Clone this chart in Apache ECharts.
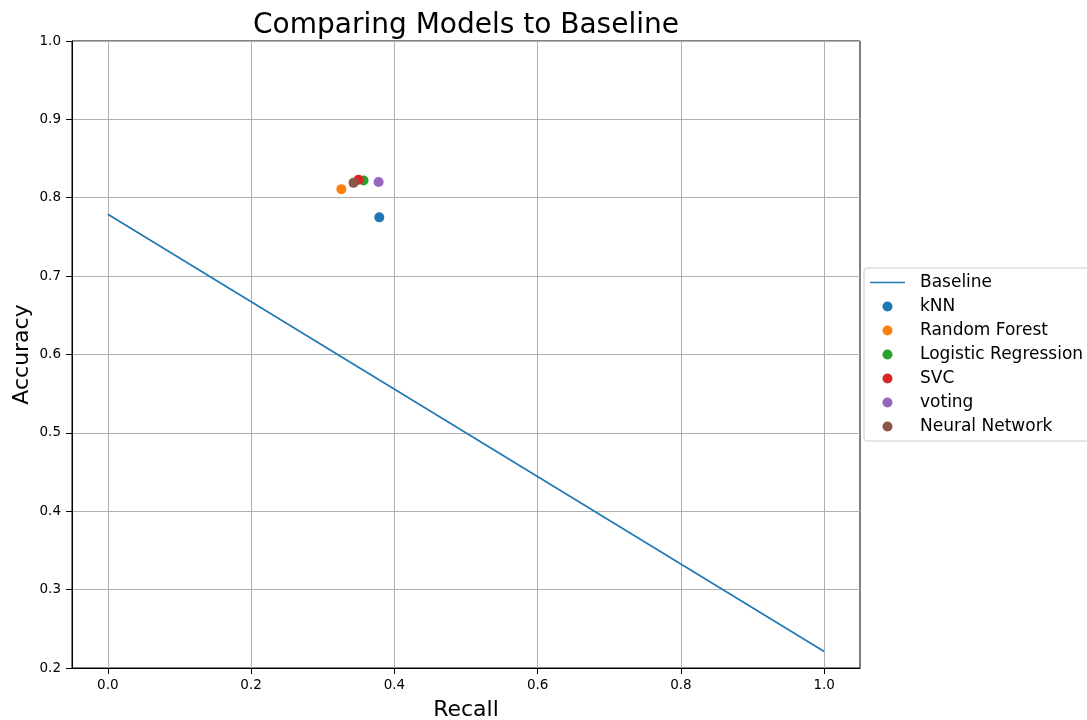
<!DOCTYPE html>
<html><head><meta charset="utf-8">
<script src="https://cdn.jsdelivr.net/npm/echarts@6/dist/echarts.min.js"></script>
<style>html,body{margin:0;padding:0;background:#fff}#c{width:1087px;height:720px}</style>
</head><body><div id="c"></div>
<script>
const baselineX = [0.0, 1.0];
const baselineY = [0.779, 0.221];
const modelNames = ['kNN', 'Random Forest', 'Logistic Regression', 'SVC', 'voting', 'Neural Network'];
const modelRecall = [0.379, 0.326, 0.357, 0.350, 0.378, 0.343];
const modelAccuracy = [0.775, 0.811, 0.822, 0.823, 0.820, 0.819];
const colors = ['#1f77b4', '#ff7f0e', '#2ca02c', '#d62728', '#9467bd', '#8c564b'];
const xTicks = [0.0, 0.2, 0.4, 0.6, 0.8, 1.0];

const font = 'DejaVu Sans';
const chart = echarts.init(document.getElementById('c'), null, {renderer: 'canvas'});
const series = [{
  name: 'Baseline', type: 'line', symbol: 'none',
  data: baselineX.map((x, i) => [x, baselineY[i]]),
  lineStyle: {color: '#1f77b4', width: 1.6}, itemStyle: {color: '#1f77b4'}, z: 2
}];
modelNames.forEach((n, i) => {
  series.push({
    name: n, type: 'scatter', symbol: 'circle', symbolSize: 10,
    data: [[modelRecall[i], modelAccuracy[i]]],
    itemStyle: {color: colors[i], opacity: 1}, z: 3 + i
  });
});
chart.setOption({
  animation: false,
  title: {text: 'Comparing Models to Baseline', left: 461, textAlign: 'center', top: 7,
    textStyle: {fontFamily: font, fontSize: 28, fontWeight: 'normal', color: '#000'}},
  grid: {left: 72, right: 227, top: 41, bottom: 52, show: true, borderColor: '#000', borderWidth: 1,
    containLabel: false, outerBoundsMode: 'none'},
  legend: {
    orient: 'vertical', left: 864, top: 268, padding: [6, 12, 6, 6],
    borderColor: '#cccccc', borderWidth: 1, borderRadius: 3, backgroundColor: '#fff',
    itemWidth: 35, itemHeight: 10, itemGap: 7, symbolKeepAspect: true,
    textStyle: {fontFamily: font, fontSize: 17, color: '#000', padding: [0, 0, 0, 10]},
    data: [{name: 'Baseline', icon: 'path://M0,0H35V1.6H0Z', itemStyle: {color: '#1f77b4'}}].concat(modelNames.map(n => ({name: n, icon: 'circle'})))
  },
  xAxis: {
    type: 'value', min: -0.05, max: 1.05,
    name: 'Recall', nameLocation: 'middle', nameGap: 31, nameMoveOverlap: false,
    nameTextStyle: {fontFamily: font, fontSize: 22, color: '#000'},
    axisLine: {show: true, onZero: false, lineStyle: {color: '#000'}},
    axisTick: {show: true, length: 6, lineStyle: {color: '#000'}, customValues: xTicks},
    axisLabel: {fontFamily: font, fontSize: 13.5, color: '#000', margin: 10, customValues: xTicks,
      formatter: v => v.toFixed(1)},
    splitLine: {show: true, lineStyle: {color: '#b0b0b0', width: 1}}
  },
  yAxis: {
    type: 'value', min: 0.2, max: 1.0, interval: 0.1,
    name: 'Accuracy', nameLocation: 'middle', nameGap: 39, nameRotate: 90, nameMoveOverlap: false,
    nameTextStyle: {fontFamily: font, fontSize: 22, color: '#000'},
    axisLine: {show: true, onZero: false, lineStyle: {color: '#000'}},
    axisTick: {show: true, length: 6, lineStyle: {color: '#000'}},
    axisLabel: {fontFamily: font, fontSize: 13.5, color: '#000', margin: 11, formatter: v => v.toFixed(1)},
    splitLine: {show: true, lineStyle: {color: '#b0b0b0', width: 1}}
  },
  series: series
});
</script>
</body></html>
